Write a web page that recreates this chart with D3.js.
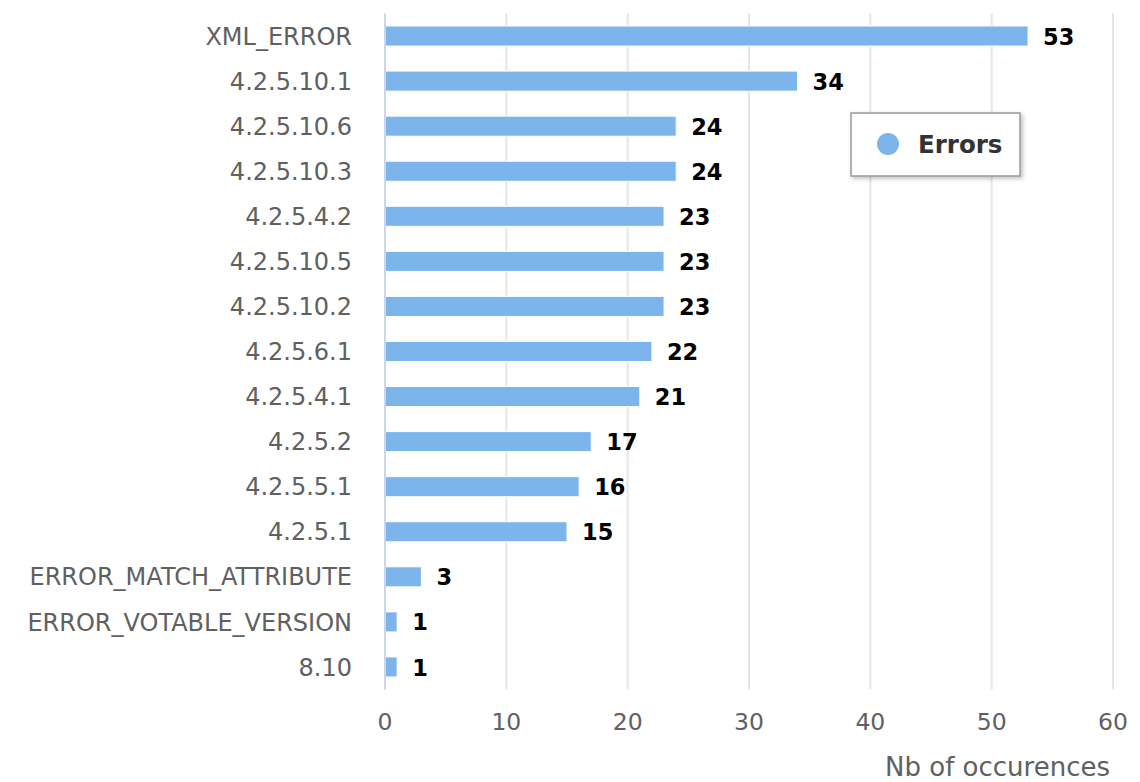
<!DOCTYPE html>
<html><head><meta charset="utf-8">
<script src="https://cdn.jsdelivr.net/npm/d3@7"></script>
<style>
html,body{margin:0;padding:0;background:#fff;}
svg{display:block;font-family:"DejaVu Sans",Verdana,sans-serif;}
</style></head>
<body><svg id="chart" width="1140" height="782"></svg>
<script>
const categories = ["XML_ERROR","4.2.5.10.1","4.2.5.10.6","4.2.5.10.3","4.2.5.4.2","4.2.5.10.5","4.2.5.10.2","4.2.5.6.1","4.2.5.4.1","4.2.5.2","4.2.5.5.1","4.2.5.1","ERROR_MATCH_ATTRIBUTE","ERROR_VOTABLE_VERSION","8.10"];
const errors = [53,34,24,24,23,23,23,22,21,17,16,15,3,1,1];
const xTicks = [0,10,20,30,40,50,60];
const seriesName = "Errors";
const xTitle = "Nb of occurences";

(function(){
const svg = d3.select("#chart");
const pL = 385, pR = 1113, pT = 13.5, pB = 689.5;
const x = d3.scaleLinear().domain([0,60]).range([pL,pR]);
const y = d3.scaleBand().domain(categories).range([pT,pB]).paddingInner(0.555).paddingOuter(0.2775);

// gridlines
svg.append("g").selectAll("line").data(xTicks.filter(d=>d>0)).join("line")
  .attr("x1",d=>x(d)).attr("x2",d=>x(d)).attr("y1",pT).attr("y2",pB)
  .attr("stroke","#e6e6e6").attr("stroke-width",2);

// bars
svg.append("g").selectAll("rect").data(errors).join("rect")
  .attr("x",x(0)).attr("y",(d,i)=>y(categories[i]))
  .attr("width",d=>x(d)-x(0)).attr("height",y.bandwidth())
  .attr("fill","#7cb5ec").attr("stroke","#fff").attr("stroke-width",1);

// axis line
svg.append("line").attr("x1",pL).attr("x2",pL).attr("y1",pT).attr("y2",pB)
  .attr("stroke","#ccd6eb").attr("stroke-width",2);

// category labels
svg.append("g").selectAll("text").data(categories).join("text")
  .attr("x",352).attr("y",d=>y(d)+y.bandwidth()/2).attr("dy","0.36em")
  .attr("text-anchor","end").attr("font-size",24).attr("fill","#606060").text(d=>d);

// data labels
svg.append("g").selectAll("text").data(errors).join("text")
  .attr("x",d=>x(d)+15).attr("y",(d,i)=>y(categories[i])+y.bandwidth()/2).attr("dy","0.38em")
  .attr("font-size",22.5).attr("font-weight","bold").attr("fill","#000").text(d=>d);

// x tick labels
svg.append("g").selectAll("text").data(xTicks).join("text")
  .attr("x",d=>x(d)).attr("y",722).attr("dy","0.36em").attr("text-anchor","middle")
  .attr("font-size",23.5).attr("fill","#606060").text(d=>d);

// x title
svg.append("text").attr("x",1110).attr("y",767).attr("dy","0.36em").attr("text-anchor","end")
  .attr("font-size",26).attr("fill","#606060").text(xTitle);

// legend
const defs = svg.append("defs");
const f = defs.append("filter").attr("id","sh").attr("x","-20%").attr("y","-20%").attr("width","150%").attr("height","160%");
f.append("feDropShadow").attr("dx",2).attr("dy",2).attr("stdDeviation",2).attr("flood-color","#000").attr("flood-opacity",0.25);
const lg = svg.append("g");
lg.append("rect").attr("x",851).attr("y",113).attr("width",169).attr("height",63)
  .attr("fill","#fff").attr("stroke","#999").attr("stroke-width",1.5).attr("filter","url(#sh)");
lg.append("circle").attr("cx",888).attr("cy",144).attr("r",11).attr("fill","#7cb5ec");
lg.append("text").attr("x",918).attr("y",144).attr("dy","0.36em").attr("font-size",24.5)
  .attr("font-weight","bold").attr("fill","#333").text(seriesName);
})();
</script></body></html>
